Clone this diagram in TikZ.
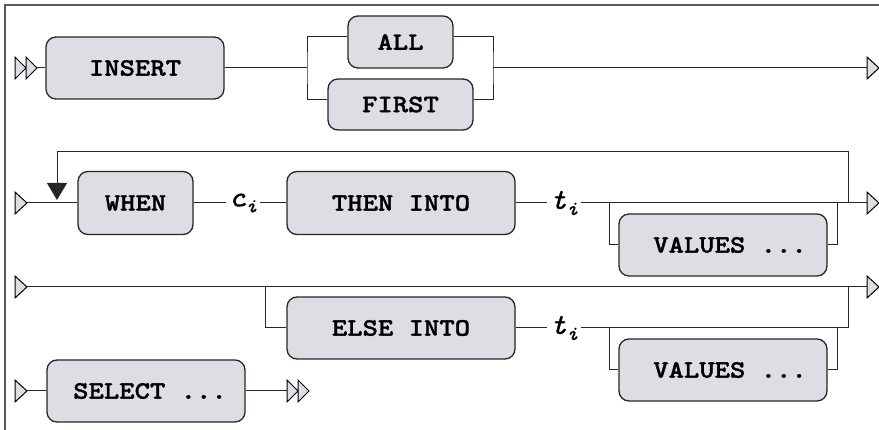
\documentclass[tikz,border=0pt]{standalone}
\usepackage{fontspec}
\usetikzlibrary{arrows.meta}
\newfontfamily\kwfont[FakeStretch=1.17,FakeBold=1.3]{lmmonolt10-bold.otf}
\newfontfamily\varfont[FakeStretch=1.1,FakeBold=1.2]{lmmono10-italic.otf}
\definecolor{boxgray}{RGB}{220,222,227}
\newcommand{\idx}[2]{#1\raisebox{-6pt}{\fontsize{20}{20}\selectfont #2}}

\begin{document}
\begin{tikzpicture}[x=1pt,y=-1pt,
    kw/.style={draw=black!85, line width=1.3pt, fill=boxgray, rounded corners=10pt,
      inner sep=0pt, font=\kwfont\fontsize{25}{28}\selectfont},
    var/.style={inner sep=3pt, font=\varfont\fontsize{29}{30}\selectfont},
    wire/.style={line width=1pt, draw=black!85},
    tri/.pic={\draw[line width=1pt, fill=boxgray] (0,-11) -- (12,0) -- (0,11) -- cycle;},
    dtri/.pic={\draw[line width=1pt, fill=boxgray] (0,-11) -- (11,0) -- (0,11) -- cycle
      (11,-11) -- (22,0) -- (11,11) -- cycle;}]
  %%%%% START %%%%%
  \def\ra{68}
  \def\rb{203}
  \def\rc{287}
  \def\rd{391}
  \def\xl{609}
  \def\xr{837}
  \def\xo{848}
  \useasboundingbox (0,0) rectangle (879,430);
  \draw[line width=2pt, black!65] (879,5) -- (5,5) -- (5,430);

  % first line: INSERT [ALL | FIRST]
  \pic at (15,\ra) {dtri};
  \coordinate (s1) at (37,\ra);
  \node[kw, minimum width=178pt, minimum height=62pt] (ins) at (135,\ra) {INSERT};
  \node[kw, minimum width=105pt, minimum height=52pt] (all) at (400.5,42) {ALL};
  \node[kw, minimum width=145pt, minimum height=51pt] (first) at (400.5,104.5) {FIRST};
  \coordinate (b1) at (307,\ra);
  \coordinate (b2) at (493,\ra);
  \coordinate (e1) at (867,\ra);
  \draw[wire] (s1) -- (ins);
  \draw[wire] (ins) -- (b1);
  \draw[wire] ([yshift=5pt]all.west) -| (b1) |- ([yshift=5pt]first.west);
  \draw[wire] ([yshift=5pt]all.east) -| (b2) |- ([yshift=5pt]first.east);
  \draw[wire] (b2) -- (e1);
  \pic at (e1) {tri};

  % second line: WHEN c THEN INTO t [VALUES], repeated
  \pic at (15,\rb) {tri};
  \coordinate (s2) at (27,\rb);
  \node[kw, minimum width=115pt, minimum height=63pt] (when) at (135.5,\rb) {WHEN};
  \node[var] (ci) at (243,\rb) {\idx{c}{i}};
  \node[kw, minimum width=228pt, minimum height=63pt] (then) at (401,\rb) {THEN INTO};
  \node[var] (t1) at (564,\rb) {\idx{t}{i}};
  \node[kw, minimum width=208pt, minimum height=62pt] (val1) at (723,245) {\hspace*{14pt}VALUES ...};
  \coordinate (v1l) at (\xl,\rb);
  \coordinate (v1r) at (\xr,\rb);
  \coordinate (lp) at (\xo,\rb);
  \coordinate (lt) at (57,200);
  \coordinate (e2) at (867,\rb);
  \draw[wire] (s2) -- (when);
  \draw[wire] (when) -- (ci);
  \draw[wire] (ci) -- (then);
  \draw[wire] (then) -- (t1);
  \draw[wire] (t1) -- (e2);
  \draw[wire] (v1l) |- (val1);
  \draw[wire] (val1) -| (v1r);
  \draw[wire, -{Triangle[width=20pt,length=17pt]}] (lp) |- (57,152) -- (lt);
  \pic at (e2) {tri};

  % third line: optional ELSE INTO t [VALUES]
  \pic at (15,\rc) {tri};
  \coordinate (s3) at (27,\rc);
  \coordinate (e3) at (867,\rc);
  \coordinate (b3) at (265,\rc);
  \coordinate (j3) at (\xo,\rc);
  \node[kw, minimum width=228pt, minimum height=62pt] (else) at (401,328) {ELSE INTO};
  \node[var] (t2) at (564,328) {\idx{t}{i}};
  \node[kw, minimum width=208pt, minimum height=62pt] (val2) at (723,370) {\hspace*{14pt}VALUES ...};
  \coordinate (v2l) at (\xl,328);
  \coordinate (v2r) at (\xr,328);
  \draw[wire] (s3) -- (e3);
  \draw[wire] (b3) |- (else);
  \draw[wire] (else) -- (t2);
  \draw[wire] (t2) -| (j3);
  \draw[wire] (v2l) |- (val2);
  \draw[wire] (val2) -| (v2r);
  \pic at (e3) {tri};

  % last line: SELECT ...
  \pic at (15,\rd) {tri};
  \coordinate (s4) at (27,\rd);
  \node[kw, minimum width=198pt, minimum height=62pt] (sel) at (146,\rd) {\hspace*{8pt}SELECT ...};
  \coordinate (e4) at (287,\rd);
  \draw[wire] (s4) -- (sel);
  \draw[wire] (sel) -- (e4);
  \pic at (e4) {dtri};
  %%%%% END %%%%%
\end{tikzpicture}
\end{document}
